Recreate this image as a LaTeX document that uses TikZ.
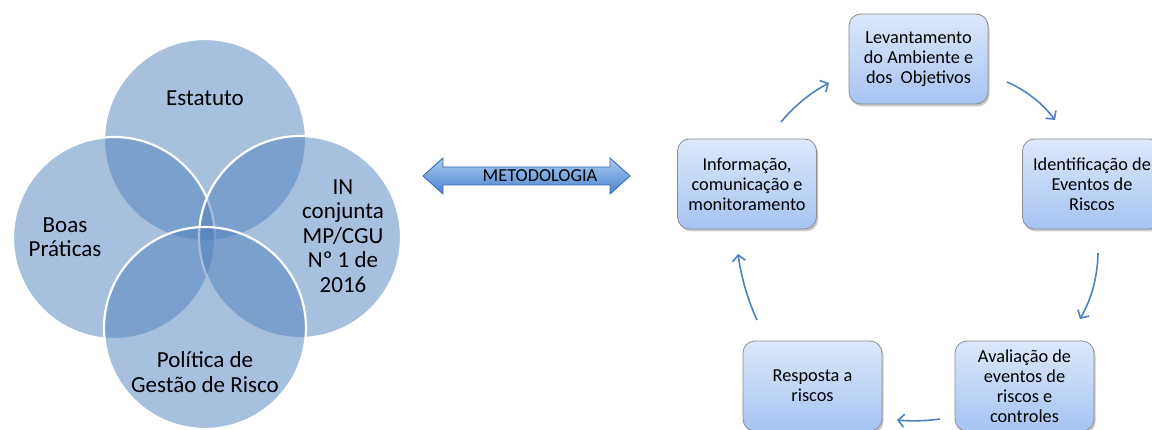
\documentclass[tikz,border=0pt]{standalone}
\usepackage{fontspec}
\setmainfont{Carlito}
\usetikzlibrary{shadows,arrows.meta}
\definecolor{acc}{HTML}{4F81BD}
\definecolor{boxtop}{HTML}{DDE8FA}
\definecolor{boxbot}{HTML}{A6C3F3}
\definecolor{boxline}{HTML}{8C8C8C}
\definecolor{arrtop}{HTML}{A8CBF0}
\definecolor{arrbot}{HTML}{4A84CF}
\definecolor{arrline}{HTML}{3B6DB0}
\begin{document}
\begin{tikzpicture}[x=1pt,y=-1pt,
  venn/.style={circle, minimum size=202pt, inner sep=0pt, fill=acc, fill opacity=0.5, draw=white, draw opacity=1, line width=2.2pt},
  vtext/.style={align=center, font=\fontsize{23}{24.5}\selectfont, text=black, inner sep=0pt},
  cbox/.style={rounded corners=12pt, minimum width=139pt, minimum height=90pt, inner sep=0pt, draw=boxline, line width=0.8pt, top color=boxtop, bottom color=boxbot, align=center, font=\fontsize{18.3}{20}\selectfont, drop shadow={shadow xshift=1.5pt, shadow yshift=-2.5pt, opacity=0.35, fill=black!60}},
  carrow/.style={draw=acc, line width=1.6pt, -{Straight Barb[length=6pt,width=13pt,line width=1.6pt]}},
  dblarrow/.style={draw=arrline, line width=0.9pt, top color=arrtop, bottom color=arrbot}
]
\useasboundingbox (0,0) rectangle (1152,430);
\clip (0,0) rectangle (1152,430);

% Venn circles
\node[venn] (cEst) at (205,140) {};
\node[venn] (cBoas) at (114,238) {};
\node[venn] (cIN) at (300,237) {};
\node[venn] (cPol) at (205,328) {};

\node[vtext] (tEst) at (205,98) {Estatuto};
\node[vtext] (tBoas) at (65,237) {Boas\\Práticas};
\node[vtext] (tIN) at (343,236) {IN\\conjunta\\MP/CGU\\Nº 1 de\\2016};
\node[vtext] (tPol) at (205,372) {Política de\\Gestão de Risco};

% double arrow
\path[dblarrow] (423,176) -- (443,158) -- (443,167) -- (610,167) -- (610,158) -- (630,176)
  -- (610,194) -- (610,185) -- (443,185) -- (443,194) -- cycle;
\node[font=\fontsize{18.3}{20}\selectfont, inner sep=0pt] (met) at (540,176) {METODOLOGIA};

% cycle boxes
\node[cbox] (lev) at (918.5,59) {Levantamento\\do Ambiente e\\dos~ Objetivos};
\node[cbox] (ident) at (1092,184) {Identificação de\\Eventos de\\Riscos};
\node[cbox] (aval) at (1024.5,386) {Avaliação de\\eventos de\\riscos e\\controles};
\node[cbox] (resp) at (812.5,386) {Resposta a\\riscos};
\node[cbox] (info) at (747,184) {Informação,\\comunicação e\\monitoramento};

% arrow end points
\coordinate (a1s) at (781,122); \coordinate (a1e) at (829,83);
\coordinate (a2s) at (1007,82); \coordinate (a2e) at (1055,120);
\coordinate (a3s) at (1098,253); \coordinate (a3e) at (1080,319);
\coordinate (a4s) at (940,419); \coordinate (a4e) at (897,420);
\coordinate (a5s) at (757,320); \coordinate (a5e) at (738,254);

\draw[carrow] (a1s) .. controls (794.3,106) and (810,93) .. (a1e);
\draw[carrow] (a2s) .. controls (1026,90.4) and (1042.3,103.1) .. (a2e);
\draw[carrow] (a3s) .. controls (1097.6,276.4) and (1091.7,298.6) .. (a3e);
\draw[carrow] (a4s) .. controls (925.3,421.1) and (909.8,421.3) .. (a4e);
\draw[carrow] (a5s) .. controls (747.4,298.9) and (741.2,276.9) .. (a5e);
\end{tikzpicture}
\end{document}
